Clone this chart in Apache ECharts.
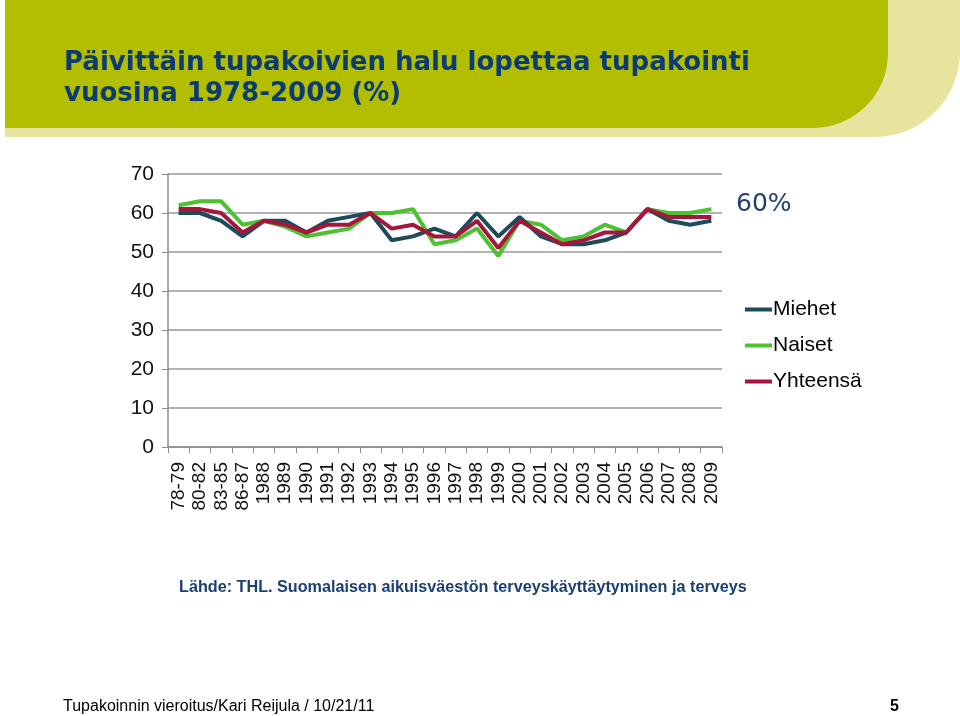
<!DOCTYPE html>
<html><head><meta charset="utf-8">
<script src="https://cdn.jsdelivr.net/npm/echarts@6/dist/echarts.min.js"></script>
<style>html,body{margin:0;padding:0;background:#fff}#c{width:960px;height:716px}</style>
</head><body><div id="c"></div>
<script>
const categories = ['78-79','80-82','83-85','86-87','1988','1989','1990','1991','1992','1993','1994','1995','1996','1997','1998','1999','2000','2001','2002','2003','2004','2005','2006','2007','2008','2009'];
const miehet =    [60,60,58,54,58,58,55,58,59,60,53,54,56,54,60,54,59,54,52,52,53,55,61,58,57,58];
const naiset =    [62,63,63,57,58,56.5,54,55,56,60,60,61,52,53,56,49,58,57,53,54,57,55,61,60,60,61];
const yhteensa =  [61,61,60,55,58,57,55,57,57,60,56,57,54,54,58,51,58,55,52,53,55,55,61,59,59,59];
const yTicks = [0,10,20,30,40,50,60,70];

const chart = echarts.init(document.getElementById('c'), null, {renderer:'canvas'});
const sans = '"Liberation Sans", Arial, sans-serif';
chart.setOption({
  animation: false,
  backgroundColor: '#ffffff',
  graphic: [
    {type:'rect', z:0, shape:{x:5,y:0,width:955,height:137,r:[0,0,85,0]}, style:{fill:'#e7e49d'}},
    {type:'rect', z:1, shape:{x:5,y:0,width:883,height:128,r:[0,0,75,0]}, style:{fill:'#b4be00'}},
    {type:'text', z:5, left:64, top:48, style:{text:'Päivittäin tupakoivien halu lopettaa tupakointi\nvuosina 1978-2009 (%)', fill:'#0a3b73', font:'bold 26px "DejaVu Sans", Verdana, sans-serif', lineHeight:31}},
    {type:'text', z:5, left:736, top:192, style:{text:'60%', fill:'#21406e', font:'25px "DejaVu Sans", Verdana, sans-serif'}},
    {type:'text', z:5, left:179, top:580, style:{text:'Lähde: THL. Suomalaisen aikuisväestön terveyskäyttäytyminen ja terveys', fill:'#1a3f73', font:'bold 16.2px "Liberation Sans", Arial, sans-serif'}},
    {type:'text', z:5, left:63, top:699, style:{text:'Tupakoinnin vieroitus/Kari Reijula / 10/21/11', fill:'#000', font:'16px "Liberation Sans", Arial, sans-serif'}},
    {type:'text', z:5, left:890, top:699, style:{text:'5', fill:'#000', font:'bold 16px "Liberation Sans", Arial, sans-serif'}}
  ],
  legend: {
    orient:'vertical', left:740, top:294, itemGap:15, itemWidth:27, itemHeight:4,
    icon:'rect',
    textStyle:{fontFamily:sans, fontSize:21, color:'#000', padding:[0,0,0,-4]},
    data:['Miehet','Naiset','Yhteensä']
  },
  grid: {left:168, top:174, width:554, height:273, containLabel:false},
  xAxis: {
    type:'category', data:categories, boundaryGap:true,
    axisLine:{lineStyle:{color:'#8c8c8c', width:1.5}},
    axisTick:{show:true, length:6, lineStyle:{color:'#8c8c8c'}},
    axisLabel:{rotate:90, interval:0, fontFamily:sans, fontSize:19, color:'#111', margin:15}
  },
  yAxis: {
    type:'value', min:0, max:70, interval:10,
    axisLine:{show:true, lineStyle:{color:'#8c8c8c', width:1.5}},
    axisTick:{show:true, length:6, lineStyle:{color:'#8c8c8c'}},
    axisLabel:{fontFamily:sans, fontSize:21, color:'#111', margin:14,
      formatter: v => yTicks.includes(v) ? String(v) : ''},
    splitLine:{show:true, lineStyle:{color:'#999', width:1.5}}
  },
  series: [
    {name:'Miehet', type:'line', data:miehet, symbol:'none', lineStyle:{width:4, color:'#1c4c5c'}, itemStyle:{color:'#1c4c5c'}, z:3},
    {name:'Naiset', type:'line', data:naiset, symbol:'none', lineStyle:{width:4, color:'#4cc232'}, itemStyle:{color:'#4cc232'}, z:2},
    {name:'Yhteensä', type:'line', data:yhteensa, symbol:'none', lineStyle:{width:4, color:'#a8153c'}, itemStyle:{color:'#a8153c'}, z:4}
  ]
});
</script></body></html>
